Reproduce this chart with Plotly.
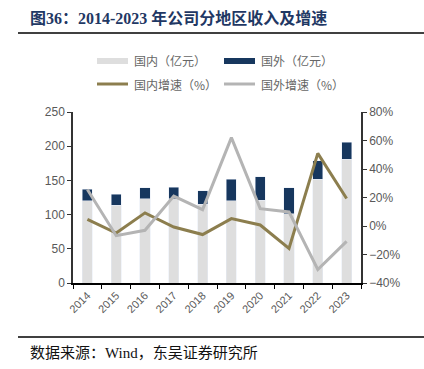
import plotly.graph_objects as go

years = ["2014", "2015", "2016", "2017", "2018", "2019", "2020", "2021", "2022", "2023"]
domestic = [120, 114, 123, 123, 115, 120, 121, 101, 152, 181]
foreign = [17, 16, 16, 17, 20, 32, 34, 38, 27, 25]
dom_growth = [4.7, -4.9, 9.2, -0.7, -6.0, 5.2, 0.7, -15.7, 51.0, 19.3]
for_growth = [25.6, -6.8, -3.0, 21.0, 11.5, 62.0, 12.2, 9.9, -30.5, -10.8]

C_DOM = "#DEDEDE"
C_FOR = "#17375E"
C_DG = "#8C7E4E"
C_FG = "#B4B4B4"
TICK = "#595959"

fig = go.Figure()
fig.add_trace(go.Bar(x=years, y=domestic, name="国内（亿元）", marker_color=C_DOM, yaxis="y"))
fig.add_trace(go.Bar(x=years, y=foreign, name="国外（亿元）", marker_color=C_FOR, yaxis="y"))
fig.add_trace(go.Scatter(x=years, y=dom_growth, name="国内增速（%）", mode="lines",
                         line=dict(color=C_DG, width=3), yaxis="y2"))
fig.add_trace(go.Scatter(x=years, y=for_growth, name="国外增速（%）", mode="lines",
                         line=dict(color=C_FG, width=3), yaxis="y2"))

font_cn = "Liberation Sans, Noto Sans CJK SC, sans-serif"
fig.update_layout(
    width=424, height=369,
    margin=dict(l=73, r=63, t=112, b=86),
    paper_bgcolor="white", plot_bgcolor="white",
    barmode="stack", bargap=0.65,
    showlegend=False,
    hovermode=False,
    font=dict(family=font_cn, size=12, color=TICK),
    xaxis=dict(type="category", tickangle=-45, ticks="outside", tickson="boundaries",
               ticklen=4, tickcolor="#000", showline=True, linecolor="#000", linewidth=1.5,
               tickfont=dict(size=11, color=TICK), showgrid=False),
    yaxis=dict(range=[0, 250], dtick=50, ticks="outside", ticklen=4, tickcolor="#333",
               showline=True, linecolor="#333", linewidth=1.5, showgrid=False, zeroline=False,
               tickfont=dict(size=12, color=TICK)),
    yaxis2=dict(range=[-40, 80], dtick=20, overlaying="y", side="right", ticksuffix="%",
                ticks="outside", ticklen=4, tickcolor="#333", showline=True, linecolor="#333",
                linewidth=1.5, showgrid=False, zeroline=False, tickfont=dict(size=12, color=TICK)),
)

W, H = 424, 369
pl, pr, pt, pb = 73, 63, 112, 86
pw, ph = W - pl - pr, H - pt - pb
def px(x):
    return (x - pl) / pw
def py(y):
    return (H - pb - y) / ph

# Title
fig.add_annotation(text="<b>图36：2014-2023 年公司分地区收入及增速</b>", x=px(28), y=py(18),
                   xref="paper", yref="paper", showarrow=False, xanchor="left", yanchor="middle",
                   font=dict(family="Liberation Serif, Noto Sans CJK SC, serif", size=16, color="#1F3864"))
# Source
fig.add_annotation(text="数据来源：Wind，东吴证券研究所", x=px(28), y=py(353),
                   xref="paper", yref="paper", showarrow=False, xanchor="left", yanchor="middle",
                   font=dict(family="Liberation Serif, Noto Sans CJK SC, serif", size=15, color="#111"))

# Rules
fig.add_shape(type="line", xref="paper", yref="paper", x0=px(18), x1=px(424), y0=py(33), y1=py(33),
              line=dict(color="#000", width=1.5))
fig.add_shape(type="line", xref="paper", yref="paper", x0=px(18), x1=px(424), y0=py(337), y1=py(337),
              line=dict(color="#000", width=1.5))

# Legend (manual)
legend_items = [
    ("国内（亿元）", C_DOM, 97, 61, 6),
    ("国外（亿元）", C_FOR, 224, 61, 6),
    ("国内增速（%）", C_DG, 97, 84, 3),
    ("国外增速（%）", C_FG, 224, 84, 3),
]
for label, col, x0, y0, w in legend_items:
    fig.add_shape(type="line", xref="paper", yref="paper", x0=px(x0), x1=px(x0 + 31),
                  y0=py(y0), y1=py(y0), line=dict(color=col, width=w))
    fig.add_annotation(text=label, x=px(x0 + 35), y=py(y0), xref="paper", yref="paper",
                       showarrow=False, xanchor="left", yanchor="middle",
                       font=dict(family="Noto Sans CJK SC, sans-serif", size=12, color="#666"))

fig.write_html("out.html", config={"displayModeBar": False},
               post_script="document.body.style.margin='0';")
